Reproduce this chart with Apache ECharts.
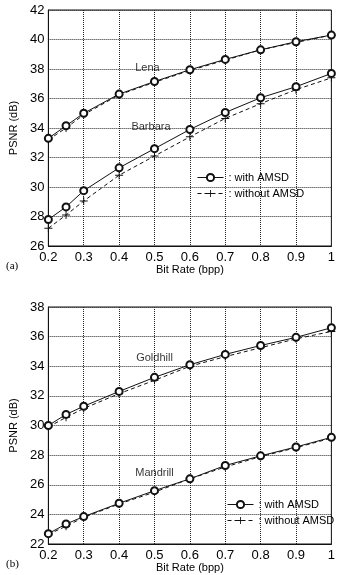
<!DOCTYPE html>
<html>
<head>
<meta charset="utf-8">
<script src="https://cdn.jsdelivr.net/npm/echarts@6/dist/echarts.min.js"></script>
<style>
  html, body { margin: 0; padding: 0; background: #fff; }
  #chart { width: 338px; height: 575px; }
</style>
</head>
<body>
<div id="chart"></div>
<script>
// bit rates (bpp)
const bitRates = [0.2, 0.25, 0.3, 0.4, 0.5, 0.6, 0.7, 0.8, 0.9, 1.0];

// (a) Lena / Barbara
const lenaWith = [33.3, 34.15, 35.0, 36.3, 37.15, 37.95, 38.65, 39.3, 39.85, 40.3];
const lenaWithout = [33.2, 34.0, 34.9, 36.25, 37.1, 37.9, 38.6, 39.3, 39.8, 40.3];
const barbaraWith = [27.8, 28.65, 29.75, 31.3, 32.6, 33.9, 35.05, 36.05, 36.8, 37.7];
const barbaraWithout = [27.2, 28.1, 29.05, 30.8, 32.1, 33.4, 34.65, 35.65, 36.6, 37.4];

// (b) Goldhill / Mandrill
const goldhillWith = [30.0, 30.75, 31.3, 32.3, 33.25, 34.1, 34.8, 35.4, 35.95, 36.6];
const goldhillWithout = [29.9, 30.55, 31.15, 32.15, 33.05, 34.0, 34.65, 35.25, 35.85, 36.35];
const mandrillWith = [22.7, 23.35, 23.85, 24.75, 25.6, 26.4, 27.3, 27.95, 28.55, 29.2];
const mandrillWithout = [22.65, 23.2, 23.8, 24.7, 25.5, 26.4, 27.2, 27.9, 28.5, 29.15];

// curve name labels [text, bpp, psnr, panel]
const curveLabels = [
  ['Lena', 0.48, 38.1, 0],
  ['Barbara', 0.49, 34.1, 0],
  ['Goldhill', 0.5, 34.55, 1],
  ['Mandrill', 0.5, 26.8, 1]
];

const FONT = 'Liberation Sans, Arial, sans-serif';
const plus = 'path://M4.4,0h1.2v10h-1.2z M0,4.4h10v1.2h-10z';

const pairs = ys => bitRates.map((x, i) => [x, ys[i]]);

function curve(name, ys, idx, withAmsd) {
  return {
    name: name,
    type: 'line',
    xAxisIndex: idx,
    yAxisIndex: idx,
    data: pairs(ys),
    symbol: withAmsd ? 'emptyCircle' : plus,
    symbolSize: withAmsd ? 7 : 8,
    showAllSymbol: true,
    lineStyle: { color: '#111', width: 1, type: withAmsd ? 'solid' : [4, 3] },
    itemStyle: withAmsd
      ? { color: '#111', borderColor: '#111', borderWidth: 1 }
      : { color: '#111', borderWidth: 0 },
    emphasis: { disabled: true },
    z: withAmsd ? 3 : 2
  };
}

function xAxis(idx) {
  return {
    type: 'value', gridIndex: idx, min: 0.2, max: 1, interval: 0.1,
    name: 'Bit Rate (bpp)', nameLocation: 'middle', nameGap: 17,
    nameTextStyle: { fontFamily: FONT, fontSize: 11, color: '#000' },
    axisLine: { show: true, lineStyle: { color: '#111' } },
    axisTick: { show: false },
    axisLabel: {
      fontFamily: FONT, fontSize: 13, color: '#000', margin: 5,
      formatter: v => String(+v.toFixed(1))
    },
    splitLine: { show: true, lineStyle: { color: '#222', type: [1, 1], width: 1 } }
  };
}

function yAxis(idx, min, max) {
  return {
    type: 'value', gridIndex: idx, min: min, max: max, interval: 2,
    name: 'PSNR (dB)', nameLocation: 'middle', nameGap: 22,
    nameTextStyle: { fontFamily: FONT, fontSize: 11, color: '#000' },
    axisLine: { show: true, lineStyle: { color: '#111' } },
    axisTick: { show: false },
    axisLabel: { fontFamily: FONT, fontSize: 13, color: '#000', margin: 4 },
    splitLine: { show: true, lineStyle: { color: '#222', type: [1, 1], width: 1 } }
  };
}

function legend(left, top) {
  return {
    left: left, top: top, orient: 'vertical',
    data: ['with AMSD', 'without AMSD'],
    itemWidth: 26, itemHeight: 9, itemGap: 5,
    formatter: n => ': ' + n,
    selectedMode: false,
    lineStyle: { width: 1 },
    itemStyle: { borderWidth: 1 },
    textStyle: { fontFamily: FONT, fontSize: 11, color: '#000', padding: [0, 0, 0, 0] }
  };
}

const chart = echarts.init(document.getElementById('chart'), null, { renderer: 'canvas' });

const series = [
  curve('without AMSD', lenaWithout, 0, false),
  curve('with AMSD', lenaWith, 0, true),
  curve('without AMSD', barbaraWithout, 0, false),
  curve('with AMSD', barbaraWith, 0, true),
  curve('without AMSD', goldhillWithout, 1, false),
  curve('with AMSD', goldhillWith, 1, true),
  curve('without AMSD', mandrillWithout, 1, false),
  curve('with AMSD', mandrillWith, 1, true)
];

curveLabels.forEach(([text, x, y, idx]) => {
  series.push({
    type: 'scatter', xAxisIndex: idx, yAxisIndex: idx,
    data: [[x, y]], symbolSize: 1, silent: true,
    itemStyle: { color: 'rgba(0,0,0,0)' },
    label: {
      show: true, position: 'inside', formatter: text,
      fontFamily: FONT, fontSize: 11, color: '#000'
    }
  });
});

chart.setOption({
  backgroundColor: '#fff',
  animation: false,
  grid: [
    { left: 37, top: 10, width: 296, height: 236, show: true, borderColor: '#111', borderWidth: 1 },
    { left: 37, top: 307, width: 297, height: 237, show: true, borderColor: '#111', borderWidth: 1 }
  ],
  xAxis: [xAxis(0), xAxis(1)],
  yAxis: [yAxis(0, 26, 42), yAxis(1, 22, 38)],
  legend: [legend(192, 167), legend(222, 494)],
  series: series,
  graphic: [
    { type: 'text', left: 6, top: 261, style: { text: '(a)', font: '11px Liberation Serif, serif', fill: '#000' } },
    { type: 'text', left: 6, top: 559, style: { text: '(b)', font: '11px Liberation Serif, serif', fill: '#000' } }
  ]
});
</script>
</body>
</html>
